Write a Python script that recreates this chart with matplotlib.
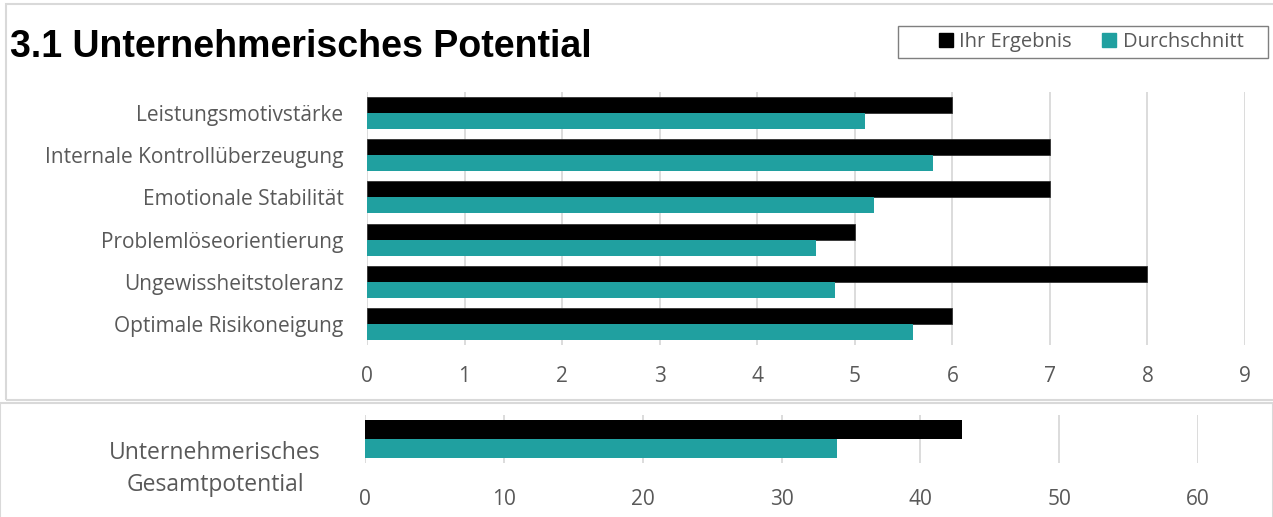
import numpy as np
import matplotlib.pyplot as plt
from matplotlib.patches import Rectangle, Patch

kategorien = ['Leistungsmotivstärke', 'Internale Kontrollüberzeugung', 'Emotionale Stabilität',
              'Problemlöseorientierung', 'Ungewissheitstoleranz', 'Optimale Risikoneigung']
ihr_ergebnis = [6, 7, 7, 5, 8, 6]
durchschnitt = [5.1, 5.8, 5.2, 4.6, 4.8, 5.6]

gesamt_label = 'Unternehmerisches\nGesamtpotential'
gesamt_ihr = 43
gesamt_durchschnitt = 34

schwarz = '#000000'
teal = '#20A0A0'
grau_text = '#595959'
grau_linie = '#d9d9d9'

plt.rcParams['font.family'] = ['Open Sans', 'DejaVu Sans']

fig = plt.figure(figsize=(12.73, 5.17), dpi=100)

# Rahmen
fig.patches.append(Rectangle((6 / 1273, 1 - 400 / 517), 1.0, (400 - 4) / 517, transform=fig.transFigure,
                             fill=False, edgecolor=grau_linie, linewidth=1.5))
fig.patches.append(Rectangle((0.0, -0.1), 1.0, 0.1 + (517 - 403) / 517, transform=fig.transFigure,
                             fill=False, edgecolor=grau_linie, linewidth=1.5))
# Legendenrahmen
fig.patches.append(Rectangle((898 / 1273, 1 - 58 / 517), (1268 - 898) / 1273, 32 / 517,
                             transform=fig.transFigure, fill=False, edgecolor='#7f7f7f', linewidth=1.0))

fig.text(10 / 1273, 1 - 47 / 517, '3.1 Unternehmerisches Potential', fontsize=27, fontweight='bold',
         family='Liberation Sans', va='center', ha='left')

# oberes Diagramm
ax = fig.add_axes([367 / 1273, 1 - 345 / 517, (1245 - 367) / 1273, (345 - 92) / 517])
y = np.arange(len(kategorien))
h = 0.38
ax.barh(y - h / 2, ihr_ergebnis, height=h, color=schwarz, edgecolor='#333333', linewidth=0.6, zorder=3,
        label='Ihr Ergebnis')
ax.barh(y + h / 2, durchschnitt, height=h, color=teal, zorder=3, label='Durchschnitt')
ax.set_xlim(0, 9)
ax.set_ylim(len(kategorien) - 0.5, -0.5)
ax.set_xticks(range(10))
ax.set_yticks(y)
ax.set_yticklabels(kategorien)
ax.grid(axis='x', color=grau_linie, linewidth=1.3, zorder=0)
for s in ax.spines.values():
    s.set_visible(False)
ax.tick_params(axis='both', length=0, colors=grau_text, labelsize=15)
ax.tick_params(axis='x', pad=15)
ax.tick_params(axis='y', pad=17)

fig.legend(handles=[Patch(color=schwarz, label='Ihr Ergebnis'), Patch(color=teal, label='Durchschnitt')],
           loc='center', bbox_to_anchor=(1091 / 1273, 1 - 42 / 517), ncol=2, frameon=False,
           fontsize=14.5, handlelength=0.72, handleheight=0.72, handletextpad=0.3,
           columnspacing=1.5, borderpad=0, borderaxespad=0, labelcolor=grau_text)

# unteres Diagramm
ax2 = fig.add_axes([365 / 1273, 1 - 463 / 517, (1198 - 365) / 1273, (463 - 415) / 517])
h2 = 0.4
ax2.barh([-h2 / 2], [gesamt_ihr], height=h2, color=schwarz, zorder=3)
ax2.barh([h2 / 2], [gesamt_durchschnitt], height=h2, color=teal, zorder=3)
ax2.set_xlim(0, 60)
ax2.set_ylim(0.5, -0.5)
ax2.set_xticks(range(0, 61, 10))
ax2.set_yticks([])
ax2.grid(axis='x', color=grau_linie, linewidth=1.3, zorder=0)
for s in ax2.spines.values():
    s.set_visible(False)
ax2.tick_params(axis='x', length=0, colors=grau_text, labelsize=15, pad=19)
fig.text(215 / 1273, 1 - 469 / 517, gesamt_label, fontsize=16.5, color=grau_text, ha='center', va='center',
         linespacing=1.45)

fig.savefig('out.png', dpi=100)
